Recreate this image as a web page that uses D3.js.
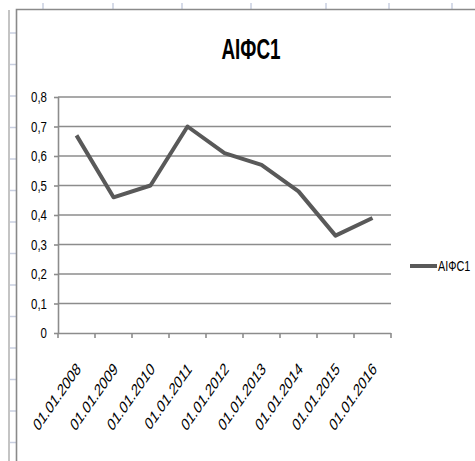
<!DOCTYPE html>
<html>
<head>
<meta charset="utf-8">
<script src="https://cdn.jsdelivr.net/npm/d3@7"></script>
<style>
  html, body { margin: 0; padding: 0; background: #fff; }
  svg { display: block; }
  text { font-family: "Liberation Sans", Arial, sans-serif; fill: #000; }
</style>
</head>
<body>
<script>
// Series data
const seriesName = "АІФС1";
const categories = ["01.01.2008", "01.01.2009", "01.01.2010", "01.01.2011", "01.01.2012",
                    "01.01.2013", "01.01.2014", "01.01.2015", "01.01.2016"];
const values = [0.67, 0.46, 0.50, 0.70, 0.61, 0.57, 0.48, 0.33, 0.39];
const yTicks = [0, 0.1, 0.2, 0.3, 0.4, 0.5, 0.6, 0.7, 0.8];

const W = 475, H = 461;
const plot = { left: 58, right: 391, top: 97, bottom: 333 };

const svg = d3.select("body").append("svg")
  .attr("width", W).attr("height", H);

// Sheet gridline stubs around the chart object
const sheet = svg.append("g");
sheet.append("line").attr("x1", 9).attr("x2", 9).attr("y1", 10).attr("y2", H)
  .attr("stroke", "#c4c4c4").attr("stroke-width", 2);
d3.range(33, H, 31.5).forEach(y => {
  sheet.append("line").attr("x1", 10).attr("x2", 16).attr("y1", y).attr("y2", y)
    .attr("stroke", "#c8cfe0").attr("stroke-width", 1.5);
});
[43, 113, 182, 251, 326, 389, 452].forEach(x => {
  sheet.append("line").attr("x1", x).attr("x2", x).attr("y1", 3).attr("y2", 9)
    .attr("stroke", "#c8cfe0").attr("stroke-width", 1.5);
});

// Chart object border
svg.append("path")
  .attr("d", `M16.5,${H} V9.5 H${W}`)
  .attr("fill", "none").attr("stroke", "#8a8a8a").attr("stroke-width", 1.6);

// Scales
const x = d3.scaleBand().domain(categories).range([plot.left, plot.right]);
const y = d3.scaleLinear().domain([0, 0.8]).range([plot.bottom, plot.top]);

// Horizontal gridlines
svg.append("g")
  .selectAll("line").data(yTicks.filter(d => d > 0)).join("line")
  .attr("x1", plot.left).attr("x2", plot.right)
  .attr("y1", d => y(d)).attr("y2", d => y(d))
  .attr("stroke", "#8c8c8c").attr("stroke-width", 1.6);

// Y axis
const yAxis = svg.append("g")
  .attr("transform", `translate(${plot.left},0)`)
  .call(d3.axisLeft(y).tickValues(yTicks).tickSize(4).tickPadding(0)
    .tickFormat(d => d3.format(".1f")(d).replace(".", ",").replace(/^0,0$/, "0")));
yAxis.select(".domain").attr("stroke", "#8c8c8c").attr("stroke-width", 1.6)
  .attr("d", `M0.5,${plot.bottom}V${plot.top}`);
yAxis.selectAll(".tick line").attr("stroke", "#8c8c8c").attr("stroke-width", 1.6);
yAxis.selectAll(".tick text")
  .attr("x", null).attr("dy", null)
  .attr("font-size", 14)
  .attr("text-anchor", "end")
  .attr("dominant-baseline", "central")
  .attr("transform", "translate(-11,0) scale(0.82,1)");

// X axis
const xAxis = svg.append("g")
  .attr("transform", `translate(0,${plot.bottom})`)
  .call(d3.axisBottom(x).tickSize(0).tickFormat(""));
xAxis.select(".domain").attr("stroke", "#8c8c8c").attr("stroke-width", 1.6)
  .attr("d", `M${plot.left},0.5H${plot.right}`);
// Boundary ticks between categories
xAxis.append("g").selectAll("line")
  .data(categories.map(c => x(c)).concat([x(categories[categories.length - 1]) + x.bandwidth()]))
  .join("line")
  .attr("x1", d => d).attr("x2", d => d).attr("y1", 0).attr("y2", 5)
  .attr("stroke", "#8c8c8c").attr("stroke-width", 1.6);

// Rotated category labels
svg.append("g").selectAll("text").data(categories).join("text")
  .attr("font-size", 17.5)
  .attr("text-anchor", "end")
  .attr("transform", d => `translate(${x(d) + x.bandwidth() / 2 + 5},${plot.bottom + 37}) scale(0.7,1) rotate(-45)`)
  .text(d => d);

// Series line
const line = d3.line()
  .x((d, i) => x(categories[i]) + x.bandwidth() / 2)
  .y(d => y(d));
svg.append("path")
  .datum(values)
  .attr("d", line)
  .attr("fill", "none")
  .attr("stroke", "#595959")
  .attr("stroke-width", 4)
  .attr("stroke-linejoin", "round");

// Title
svg.append("text")
  .attr("font-size", 30)
  .attr("font-weight", "bold")
  .attr("text-anchor", "middle")
  .attr("transform", "translate(251,59) scale(0.63,1)")
  .text(seriesName);

// Legend
const legend = svg.append("g").attr("transform", "translate(410,266)");
legend.append("line").attr("x1", 0).attr("x2", 27).attr("y1", 0).attr("y2", 0)
  .attr("stroke", "#595959").attr("stroke-width", 4);
legend.append("text")
  .attr("font-size", 15)
  .attr("dominant-baseline", "central")
  .attr("transform", "translate(28,0) scale(0.72,1)")
  .text(seriesName);
</script>
</body>
</html>
